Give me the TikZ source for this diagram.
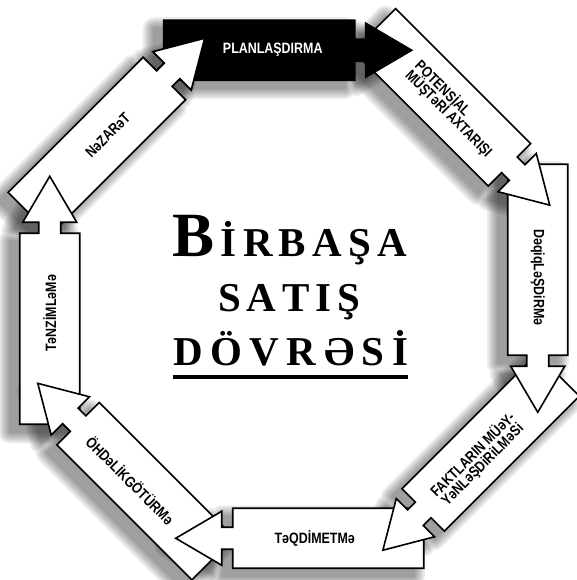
\documentclass[tikz,border=0pt]{standalone}
\usepackage{fontspec}
\newfontfamily\labelfont{Liberation Sans}
\newfontfamily\titlefont{Liberation Serif}
\usetikzlibrary{positioning}
\tikzset{
    stage/.style ={
        draw=black,
        fill=white,
        line width=1.6pt,
        line join=miter
    },
    stagedark/.style ={
        stage,
        fill=black
    },
    stagetext/.style ={
        font=\labelfont\bfseries\fontsize{15}{13.5}\selectfont,
        inner sep=0pt,
        xscale=0.83,
        transform shape
    },
    stageshade/.style ={
        fill=black,
        draw=black,
        line join=round
    },
    title/.style ={
        font=\titlefont\bfseries\fontsize{41}{41}\selectfont,
        inner sep=0pt,
        anchor=base
    }
}
% one arrow of the cycle, drawn along +x
\newcommand\stageshape[1]{\path[#1] (-130,-30) -- (61,-30) -- (61,-11) -- (72,-11) -- (72,-27) -- (118,0) -- (72,27) -- (72,11) -- (61,11) -- (61,30) -- (-130,30) -- cycle;}
% [node options]{edge angle}{style}{name}{text position}{text rotation}{text}
\newcommand\stage[7][]{%
    \begin{scope}[shift={(#2:244)}, rotate=#2-90]
        \stageshape{#3}
        \node[stagetext, rotate=#6, #1] (#4) at (#5) {#7};
    \end{scope}}
\newcommand\stageshadow[1]{%
    \begin{scope}[shift={(-10,-8)}, shift={(#1:244)}, rotate=#1-90]
        \foreach \w in {22,18,14,10,6,2}
            {\begin{scope}[transparency group, opacity=0.075]\stageshape{stageshade, line width=\w pt}\end{scope}}
    \end{scope}}

\begin{document}
\begin{tikzpicture}[x=1pt, y=1pt]
    \useasboundingbox (-293.75,-285.75) rectangle (283.25,294.25);
    \fill[white] (-293.75,-285.75) rectangle (283.25,294.25);

    % shadows
    \foreach \a in {90,45,0,-45,-90,-135,180,135}
        {\stageshadow{\a}}

    % title
    \node[title] (birbasa) at (-4,37.25) {\makebox[234pt][s]{{\fontsize{63}{63}\selectfont B}\hfil İ\hfil R\hfil B\hfil A\hfil Ş\hfil A}};
    \node[title] (satis) at (-4.75,-17.75) {\makebox[142pt][s]{S\hfil A\hfil T\hfil I\hfil Ş}};
    \node[title] (dovresi) at (-3,-70.75) {\makebox[235pt][s]{D\hfil Ö\hfil V\hfil R\hfil Ə\hfil S\hfil İ}};
    \draw[line width=4pt] ([yshift=-12pt]dovresi.base west) -- ([yshift=-12pt]dovresi.base east);

    % arrows, each head over the next tail
    \stage{135}{stage}{nezaret}{-19,0}{0}{NəZARəT}
    \stage{180}{stage}{tenzim}{-19,0}{0}{TəNZİMLəMə}
    \stage{-135}{stage}{ohdelik}{-16,3}{180}{ÖHDəLİKGÖTÜRMə}
    \stage{-90}{stage}{teqdim}{-21,0}{180}{TəQDİMETMə}
    \stage[align=center]{-45}{stage}{faktlar}{-13,3}{180}{FAKTLARIN MÜəY-\\YəNLəŞDiRiLMəSi}
    \stage{0}{stage}{deqiq}{-17,0}{0}{DəqiqLəŞDiRMə}
    \stage[align=left]{45}{stage}{potensial}{-18,0}{0}{POTENSİAL\\MÜŞTəRİ AXTARIŞI}
    \stage[text=white]{90}{stagedark}{plan}{-21,0}{0}{PLANLAŞDIRMA}

    % head of the last arrow over the first tail
    \begin{scope}[shift={(135:244)}, rotate=45]
        \clip (45,-40) rectangle (125,40);
        \stageshape{stage}
    \end{scope}
\end{tikzpicture}
\end{document}
